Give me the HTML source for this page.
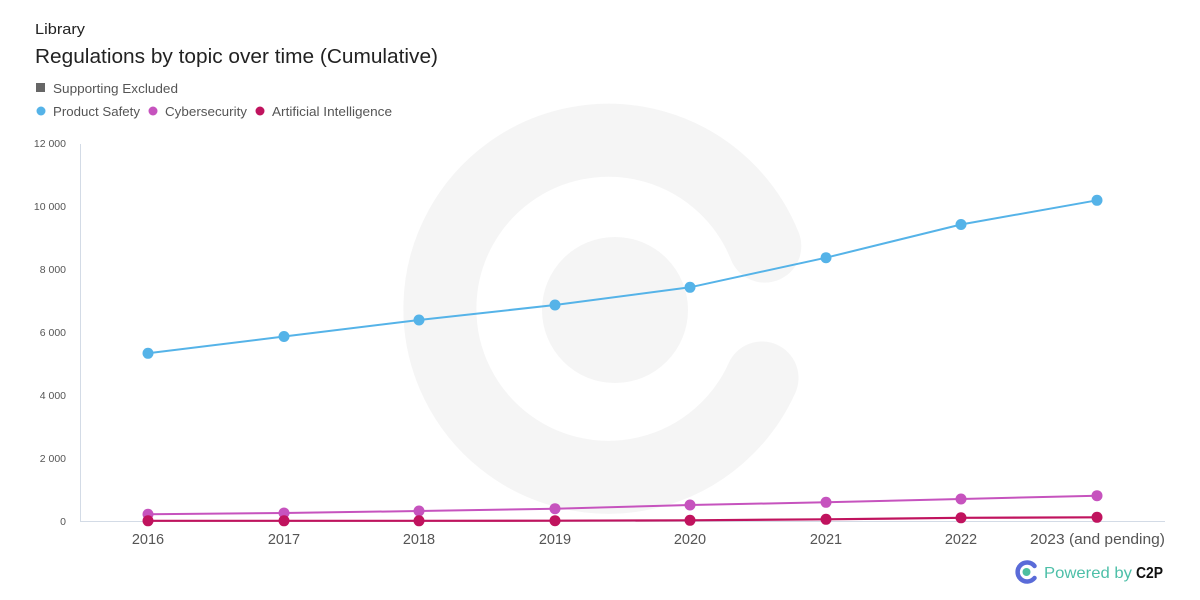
<!DOCTYPE html>
<html>
<head>
<meta charset="utf-8">
<style>
  html, body { margin: 0; padding: 0; background: #ffffff; }
  svg { display: block; }
  text { font-family: "Liberation Sans", "DejaVu Sans", sans-serif; }
</style>
</head>
<body>
<svg width="1200" height="600" viewBox="0 0 1200 600" xmlns="http://www.w3.org/2000/svg">
  <rect width="1200" height="600" fill="#ffffff"/>

  <!-- watermark -->
  <g fill="none" stroke="#f5f5f5">
    <path d="M 764.8 246.1 A 168.5 168.5 0 1 0 762 378" stroke-width="73" stroke-linecap="round"/>
  </g>
  <circle cx="615" cy="310" r="73" fill="#f5f5f5"/>

  <!-- header -->
  <text x="35" y="34" font-size="15" fill="#222" textLength="50" lengthAdjust="spacingAndGlyphs">Library</text>
  <text x="35" y="63" font-size="20" fill="#222" textLength="403" lengthAdjust="spacingAndGlyphs">Regulations by topic over time (Cumulative)</text>

  <!-- legend -->
  <rect x="36" y="83" width="9" height="9" fill="#666"/>
  <text x="53" y="93" font-size="13" fill="#555" textLength="125" lengthAdjust="spacingAndGlyphs">Supporting Excluded</text>

  <circle cx="41" cy="111" r="4.5" fill="#55b3e8"/>
  <text x="53" y="116" font-size="13" fill="#555" textLength="87" lengthAdjust="spacingAndGlyphs">Product Safety</text>
  <circle cx="153" cy="111" r="4.5" fill="#c653be"/>
  <text x="165" y="116" font-size="13" fill="#555" textLength="82" lengthAdjust="spacingAndGlyphs">Cybersecurity</text>
  <circle cx="260" cy="111" r="4.5" fill="#c0135e"/>
  <text x="272" y="116" font-size="13" fill="#555" textLength="120" lengthAdjust="spacingAndGlyphs">Artificial Intelligence</text>

  <!-- axes -->
  <line x1="80.5" y1="144" x2="80.5" y2="521.5" stroke="#d3dbe6" stroke-width="1"/>
  <line x1="80" y1="521.5" x2="1165" y2="521.5" stroke="#d3dbe6" stroke-width="1"/>

  <!-- y labels -->
  <g font-size="10.5" fill="#555" text-anchor="end">
    <text x="66" y="147">12 000</text>
    <text x="66" y="210">10 000</text>
    <text x="66" y="273">8 000</text>
    <text x="66" y="336">6 000</text>
    <text x="66" y="399">4 000</text>
    <text x="66" y="462">2 000</text>
    <text x="66" y="525">0</text>
  </g>

  <!-- x labels -->
  <g font-size="14.5" fill="#555" text-anchor="middle">
    <text x="148" y="544">2016</text>
    <text x="284" y="544">2017</text>
    <text x="419" y="544">2018</text>
    <text x="555" y="544">2019</text>
    <text x="690" y="544">2020</text>
    <text x="826" y="544">2021</text>
    <text x="961" y="544">2022</text>
    <text x="1097.5" y="544" textLength="135" lengthAdjust="spacingAndGlyphs">2023 (and pending)</text>
  </g>

  <!-- Product Safety -->
  <polyline fill="none" stroke="#55b3e8" stroke-width="2" stroke-linejoin="round"
    points="148,353.3 284,336.5 419,320 555,305 690,287.3 826,257.7 961,224.5 1097,200.3"/>
  <g fill="#55b3e8">
    <circle cx="148" cy="353.3" r="5.5"/>
    <circle cx="284" cy="336.5" r="5.5"/>
    <circle cx="419" cy="320" r="5.5"/>
    <circle cx="555" cy="305" r="5.5"/>
    <circle cx="690" cy="287.3" r="5.5"/>
    <circle cx="826" cy="257.7" r="5.5"/>
    <circle cx="961" cy="224.5" r="5.5"/>
    <circle cx="1097" cy="200.3" r="5.5"/>
  </g>

  <!-- Cybersecurity -->
  <polyline fill="none" stroke="#c653be" stroke-width="2" stroke-linejoin="round"
    points="148,514.3 284,513 419,511 555,508.7 690,505 826,502.3 961,499 1097,495.7"/>
  <g fill="#c653be">
    <circle cx="148" cy="514.3" r="5.5"/>
    <circle cx="284" cy="513" r="5.5"/>
    <circle cx="419" cy="511" r="5.5"/>
    <circle cx="555" cy="508.7" r="5.5"/>
    <circle cx="690" cy="505" r="5.5"/>
    <circle cx="826" cy="502.3" r="5.5"/>
    <circle cx="961" cy="499" r="5.5"/>
    <circle cx="1097" cy="495.7" r="5.5"/>
  </g>

  <!-- Artificial Intelligence -->
  <polyline fill="none" stroke="#c0135e" stroke-width="2.2" stroke-linejoin="round"
    points="148,520.8 284,520.8 419,520.8 555,520.7 690,520.3 826,519.3 961,517.8 1097,517.3"/>
  <g fill="#c0135e">
    <circle cx="148" cy="520.8" r="5.5"/>
    <circle cx="284" cy="520.8" r="5.5"/>
    <circle cx="419" cy="520.8" r="5.5"/>
    <circle cx="555" cy="520.7" r="5.5"/>
    <circle cx="690" cy="520.3" r="5.5"/>
    <circle cx="826" cy="519.3" r="5.5"/>
    <circle cx="961" cy="517.8" r="5.5"/>
    <circle cx="1097" cy="517.3" r="5.5"/>
  </g>

  <!-- Powered by C2P -->
  <path d="M 1034.5 566 A 9.5 9.5 0 1 0 1034.5 578" fill="none" stroke="#5a6bd8" stroke-width="4.5" stroke-linecap="round"/>
  <circle cx="1026.5" cy="572" r="4" fill="#4dbfa0"/>
  <text x="1044" y="578" font-size="16" fill="#4dbfa8" textLength="88" lengthAdjust="spacingAndGlyphs">Powered by</text>
  <text x="1136" y="578" font-size="16" font-weight="bold" fill="#111" textLength="27" lengthAdjust="spacingAndGlyphs">C2P</text>
</svg>
</body>
</html>
